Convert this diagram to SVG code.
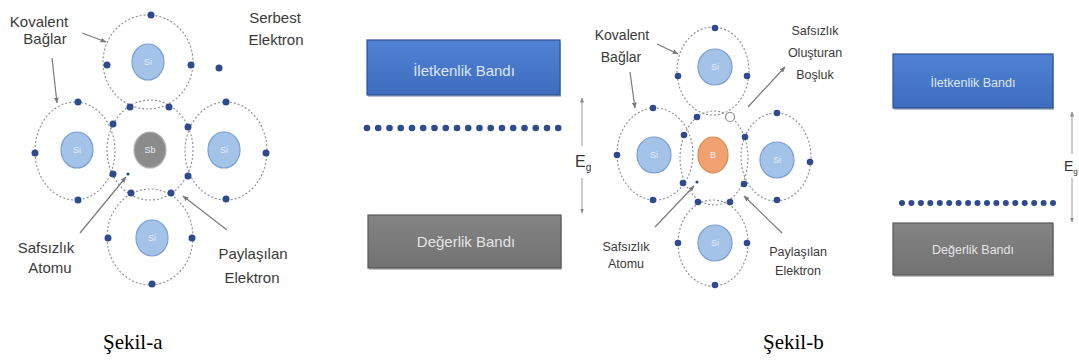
<svg xmlns="http://www.w3.org/2000/svg" width="1079" height="361" viewBox="0 0 1079 361">
  <defs>
    <marker id="tip" viewBox="0 0 10 10" refX="9" refY="5" markerWidth="6" markerHeight="6" markerUnits="userSpaceOnUse" orient="auto">
      <path d="M0,1 L10,5 L0,9 z" fill="#7a7a7a"/>
    </marker>
    <marker id="egTip" viewBox="0 0 10 10" refX="9" refY="5" markerWidth="5" markerHeight="5" markerUnits="userSpaceOnUse" orient="auto">
      <path d="M0,1 L10,5 L0,9 z" fill="#8a8a8a"/>
    </marker>
    <linearGradient id="blueFill" x1="0" y1="0" x2="0" y2="1">
      <stop offset="0" stop-color="#5082d4"/>
      <stop offset="1" stop-color="#3f6cbf"/>
    </linearGradient>
    <linearGradient id="grayFill" x1="0" y1="0" x2="0" y2="1">
      <stop offset="0" stop-color="#848484"/>
      <stop offset="1" stop-color="#727272"/>
    </linearGradient>
  </defs>
  <style>
    .orbit { fill: none; stroke: #8c8c8c; stroke-width: 1.1; stroke-dasharray: 2 2; }
    .si { fill: #a3c3e9; stroke: #7d9fcf; stroke-width: 1.2; }
    .sb { fill: #8b8b8b; stroke: #b4b4b4; stroke-width: 1.2; }
    .boron { fill: #f2a271; stroke: #d98a57; stroke-width: 1.2; }
    .core { font-family: "Liberation Sans", Arial, sans-serif; font-size: 9px; fill: #e6eef8; text-anchor: middle; }
    .e { fill: #2f4b8e; }
    .hole { fill: #ffffff; stroke: #8c8c8c; stroke-width: 1.2; }
    .lbl { font-family: "Liberation Sans", Arial, sans-serif; fill: #3a3a3a; text-anchor: middle; }
    .conn { stroke: #7a7a7a; stroke-width: 1.2; fill: none; marker-end: url(#tip); }
    .eg { stroke: #9a9a9a; stroke-width: 1; fill: none; }
    .bandTxt { font-family: "Liberation Sans", Arial, sans-serif; text-anchor: middle; }
    .cap { font-family: "Liberation Serif", "Times New Roman", serif; font-size: 21px; fill: #000; }
  </style>

  <rect width="1079" height="361" fill="#ffffff"/>

  <!-- ===== Figure a: Sb-doped silicon lattice ===== -->
  <g id="atom-a-top">
    <ellipse class="orbit" cx="148" cy="62" rx="45" ry="47"/>
    <ellipse class="si" cx="148" cy="62" rx="16" ry="18"/>
    <text class="core" x="148" y="65">Si</text>
  </g>
  <g id="atom-a-left">
    <ellipse class="orbit" cx="75" cy="151" rx="40" ry="49"/>
    <ellipse class="si" cx="77" cy="150" rx="16" ry="18"/>
    <text class="core" x="77" y="153">Si</text>
  </g>
  <g id="atom-a-right">
    <ellipse class="orbit" cx="226" cy="151" rx="41" ry="49"/>
    <ellipse class="si" cx="224" cy="150" rx="16" ry="18"/>
    <text class="core" x="224" y="153">Si</text>
  </g>
  <g id="atom-a-bottom">
    <ellipse class="orbit" cx="150" cy="237" rx="43" ry="48"/>
    <ellipse class="si" cx="152" cy="238" rx="16" ry="18"/>
    <text class="core" x="152" y="241">Si</text>
  </g>
  <g id="atom-a-center">
    <ellipse class="orbit" cx="150" cy="150" rx="43" ry="50"/>
    <ellipse class="sb" cx="150" cy="150" rx="16" ry="18"/>
    <text class="core" x="150" y="153">Sb</text>
  </g>
  <g id="electrons-a">
    <circle class="e" cx="151" cy="15" r="3.5"/>
    <circle class="e" cx="107" cy="65" r="3.5"/>
    <circle class="e" cx="191" cy="65" r="3.5"/>
    <circle class="e" cx="35" cy="153" r="3.5"/>
    <circle class="e" cx="78" cy="102" r="3.5"/>
    <circle class="e" cx="78" cy="200" r="3.5"/>
    <circle class="e" cx="266" cy="153" r="3.5"/>
    <circle class="e" cx="226" cy="102" r="3.5"/>
    <circle class="e" cx="226" cy="199" r="3.5"/>
    <circle class="e" cx="108" cy="238" r="3.5"/>
    <circle class="e" cx="192" cy="238" r="3.5"/>
    <circle class="e" cx="152" cy="284" r="3.5"/>
    <circle class="e" cx="130" cy="107" r="3.5"/>
    <circle class="e" cx="169" cy="107" r="3.5"/>
    <circle class="e" cx="113" cy="124" r="3.5"/>
    <circle class="e" cx="188" cy="127" r="3.5"/>
    <circle class="e" cx="113" cy="174" r="3.5"/>
    <circle class="e" cx="188" cy="176" r="3.5"/>
    <circle class="e" cx="131" cy="193" r="3.5"/>
    <circle class="e" cx="171" cy="193" r="3.5"/>
    <circle class="e" cx="128" cy="174" r="1.6"/>
    <circle class="e" cx="219" cy="68" r="3.5"/>
  </g>
  <g id="labels-a">
    <text class="lbl" font-size="15" x="39" y="27">Kovalent</text>
    <text class="lbl" font-size="15" x="45" y="44">Bağlar</text>
    <text class="lbl" font-size="15" x="275" y="23">Serbest</text>
    <text class="lbl" font-size="15" x="276" y="45">Elektron</text>
    <text class="lbl" font-size="15" x="46" y="253">Safsızlık</text>
    <text class="lbl" font-size="15" x="50" y="273">Atomu</text>
    <text class="lbl" font-size="15" x="253" y="259">Paylaşılan</text>
    <text class="lbl" font-size="15" x="252" y="283">Elektron</text>
  </g>

  <!-- band picture a -->
  <g id="band-a-conduction">
    <rect x="368" y="42" width="193" height="55" fill="#2b4a80" opacity="0.35"/>
    <rect x="367" y="40" width="193" height="55" fill="url(#blueFill)" stroke="#2f528f" stroke-width="1.2"/>
    <text class="bandTxt" x="464" y="76" font-size="15" fill="#dce6f4">İletkenlik Bandı</text>
  </g>
  <g id="band-a-donor-level">
    <circle class="e" cx="367" cy="128" r="3.3"/><circle class="e" cx="378.2" cy="128" r="3.3"/>
    <circle class="e" cx="389.5" cy="128" r="3.3"/><circle class="e" cx="400.7" cy="128" r="3.3"/>
    <circle class="e" cx="412" cy="128" r="3.3"/><circle class="e" cx="423.2" cy="128" r="3.3"/>
    <circle class="e" cx="434.5" cy="128" r="3.3"/><circle class="e" cx="445.7" cy="128" r="3.3"/>
    <circle class="e" cx="457" cy="128" r="3.3"/><circle class="e" cx="468.2" cy="128" r="3.3"/>
    <circle class="e" cx="479.5" cy="128" r="3.3"/><circle class="e" cx="490.7" cy="128" r="3.3"/>
    <circle class="e" cx="502" cy="128" r="3.3"/><circle class="e" cx="513.2" cy="128" r="3.3"/>
    <circle class="e" cx="524.5" cy="128" r="3.3"/><circle class="e" cx="535.7" cy="128" r="3.3"/>
    <circle class="e" cx="547" cy="128" r="3.3"/><circle class="e" cx="558.2" cy="128" r="3.3"/>
  </g>
  <g id="band-a-valence">
    <rect x="369" y="217" width="193" height="53" fill="#3a3a3a" opacity="0.3"/>
    <rect x="368" y="215" width="193" height="53" fill="url(#grayFill)" stroke="#5a5a5a" stroke-width="1.2"/>
    <text class="bandTxt" x="466" y="247" font-size="15" fill="#e4e4e4">Değerlik Bandı</text>
  </g>
  <g id="gap-a">
    <line class="eg" x1="582" y1="146" x2="582" y2="98" marker-end="url(#egTip)"/>
    <line class="eg" x1="582" y1="178" x2="582" y2="213" marker-end="url(#egTip)"/>
    <text x="575" y="167" font-family="Liberation Sans, Arial, sans-serif" font-size="16" fill="#333">E<tspan font-size="10" dy="4">g</tspan></text>
  </g>

  <!-- ===== Figure b: B-doped silicon lattice ===== -->
  <g id="atom-b-top">
    <ellipse class="orbit" cx="713" cy="71" rx="36" ry="44"/>
    <ellipse class="si" cx="715" cy="67" rx="17" ry="18"/>
    <text class="core" x="715" y="70">Si</text>
  </g>
  <g id="atom-b-left">
    <ellipse class="orbit" cx="655" cy="154" rx="38" ry="46"/>
    <ellipse class="si" cx="654" cy="155" rx="17" ry="18"/>
    <text class="core" x="654" y="158">Si</text>
  </g>
  <g id="atom-b-right">
    <ellipse class="orbit" cx="776" cy="157" rx="35" ry="44"/>
    <ellipse class="si" cx="777" cy="160" rx="17" ry="18"/>
    <text class="core" x="777" y="163">Si</text>
  </g>
  <g id="atom-b-bottom">
    <ellipse class="orbit" cx="713" cy="243" rx="35" ry="43"/>
    <ellipse class="si" cx="715" cy="243" rx="17" ry="18"/>
    <text class="core" x="715" y="246">Si</text>
  </g>
  <g id="atom-b-center">
    <ellipse class="orbit" cx="714" cy="158" rx="34" ry="47"/>
    <ellipse class="boron" cx="713" cy="155" rx="15" ry="18"/>
    <text class="core" x="713" y="158">B</text>
  </g>
  <g id="electrons-b">
    <circle class="e" cx="715" cy="28" r="3.3"/>
    <circle class="e" cx="678" cy="76" r="3.3"/>
    <circle class="e" cx="747" cy="76" r="3.3"/>
    <circle class="e" cx="617" cy="155" r="3.3"/>
    <circle class="e" cx="653" cy="108" r="3.3"/>
    <circle class="e" cx="653" cy="200" r="3.3"/>
    <circle class="e" cx="810" cy="162" r="3.3"/>
    <circle class="e" cx="777" cy="113" r="3.3"/>
    <circle class="e" cx="777" cy="200" r="3.3"/>
    <circle class="e" cx="678" cy="243" r="3.3"/>
    <circle class="e" cx="747" cy="243" r="3.3"/>
    <circle class="e" cx="715" cy="285" r="3.3"/>
    <circle class="e" cx="697" cy="117" r="3.3"/>
    <circle class="e" cx="684" cy="135" r="3.3"/>
    <circle class="e" cx="745" cy="137" r="3.3"/>
    <circle class="e" cx="683" cy="183" r="3.3"/>
    <circle class="e" cx="744" cy="184" r="3.3"/>
    <circle class="e" cx="698" cy="202" r="3.3"/>
    <circle class="e" cx="730" cy="202" r="3.3"/>
    <circle class="e" cx="697" cy="182" r="1.6"/>
    <circle class="hole" cx="730" cy="117" r="4.5"/>
  </g>
  <g id="labels-b">
    <text class="lbl" font-size="14" x="622" y="40">Kovalent</text>
    <text class="lbl" font-size="14" x="621" y="62">Bağlar</text>
    <text class="lbl" font-size="12.5" x="815" y="35">Safsızlık</text>
    <text class="lbl" font-size="12.5" x="815" y="57">Oluşturan</text>
    <text class="lbl" font-size="12.5" x="815" y="79">Boşluk</text>
    <text class="lbl" font-size="12.5" x="626" y="251">Safsızlık</text>
    <text class="lbl" font-size="12.5" x="626" y="268">Atomu</text>
    <text class="lbl" font-size="12.5" x="798" y="256">Paylaşılan</text>
    <text class="lbl" font-size="12.5" x="798" y="275">Elektron</text>
  </g>

  <!-- band picture b -->
  <g id="band-b-conduction">
    <rect x="894" y="56" width="160" height="54" fill="#2b4a80" opacity="0.35"/>
    <rect x="893" y="54" width="160" height="54" fill="url(#blueFill)" stroke="#2f528f" stroke-width="1.2"/>
    <text class="bandTxt" x="973" y="87" font-size="12.5" fill="#dce6f4">İletkenlik Bandı</text>
  </g>
  <g id="band-b-acceptor-level">
    <circle class="e" cx="902" cy="203" r="3"/><circle class="e" cx="911.4" cy="203" r="3"/>
    <circle class="e" cx="920.9" cy="203" r="3"/><circle class="e" cx="930.3" cy="203" r="3"/>
    <circle class="e" cx="939.8" cy="203" r="3"/><circle class="e" cx="949.2" cy="203" r="3"/>
    <circle class="e" cx="958.6" cy="203" r="3"/><circle class="e" cx="968.1" cy="203" r="3"/>
    <circle class="e" cx="977.5" cy="203" r="3"/><circle class="e" cx="987" cy="203" r="3"/>
    <circle class="e" cx="996.4" cy="203" r="3"/><circle class="e" cx="1005.8" cy="203" r="3"/>
    <circle class="e" cx="1015.3" cy="203" r="3"/><circle class="e" cx="1024.7" cy="203" r="3"/>
    <circle class="e" cx="1034.2" cy="203" r="3"/><circle class="e" cx="1043.6" cy="203" r="3"/>
    <circle class="e" cx="1053" cy="203" r="3"/>
  </g>
  <g id="band-b-valence">
    <rect x="894" y="225" width="160" height="52" fill="#3a3a3a" opacity="0.3"/>
    <rect x="893" y="223" width="160" height="52" fill="url(#grayFill)" stroke="#5a5a5a" stroke-width="1.2"/>
    <text class="bandTxt" x="973" y="254" font-size="12.5" fill="#e4e4e4">Değerlik Bandı</text>
  </g>
  <g id="gap-b">
    <line class="eg" x1="1072" y1="154" x2="1072" y2="112" marker-end="url(#egTip)"/>
    <line class="eg" x1="1072" y1="178" x2="1072" y2="222" marker-end="url(#egTip)"/>
    <text x="1064" y="171" font-family="Liberation Sans, Arial, sans-serif" font-size="14" fill="#333">E<tspan font-size="8" dy="3">g</tspan></text>
  </g>

  <!-- leader arrows from labels to the lattice -->
  <g id="connectors">
    <line class="conn" x1="82" y1="33" x2="106" y2="42"/>
    <line class="conn" x1="52" y1="58" x2="57" y2="103"/>
    <line class="conn" x1="80" y1="233" x2="126" y2="177"/>
    <line class="conn" x1="227" y1="230" x2="183" y2="196"/>
    <line class="conn" x1="657" y1="44" x2="678" y2="54"/>
    <line class="conn" x1="630" y1="72" x2="635" y2="108"/>
    <line class="conn" x1="748" y1="107" x2="785" y2="67"/>
    <line class="conn" x1="655" y1="227" x2="694" y2="186"/>
    <line class="conn" x1="782" y1="233" x2="744" y2="196"/>
  </g>

  <!-- captions -->
  <text class="cap" x="103" y="349">Şekil-a</text>
  <text class="cap" x="763" y="349">Şekil-b</text>
</svg>
